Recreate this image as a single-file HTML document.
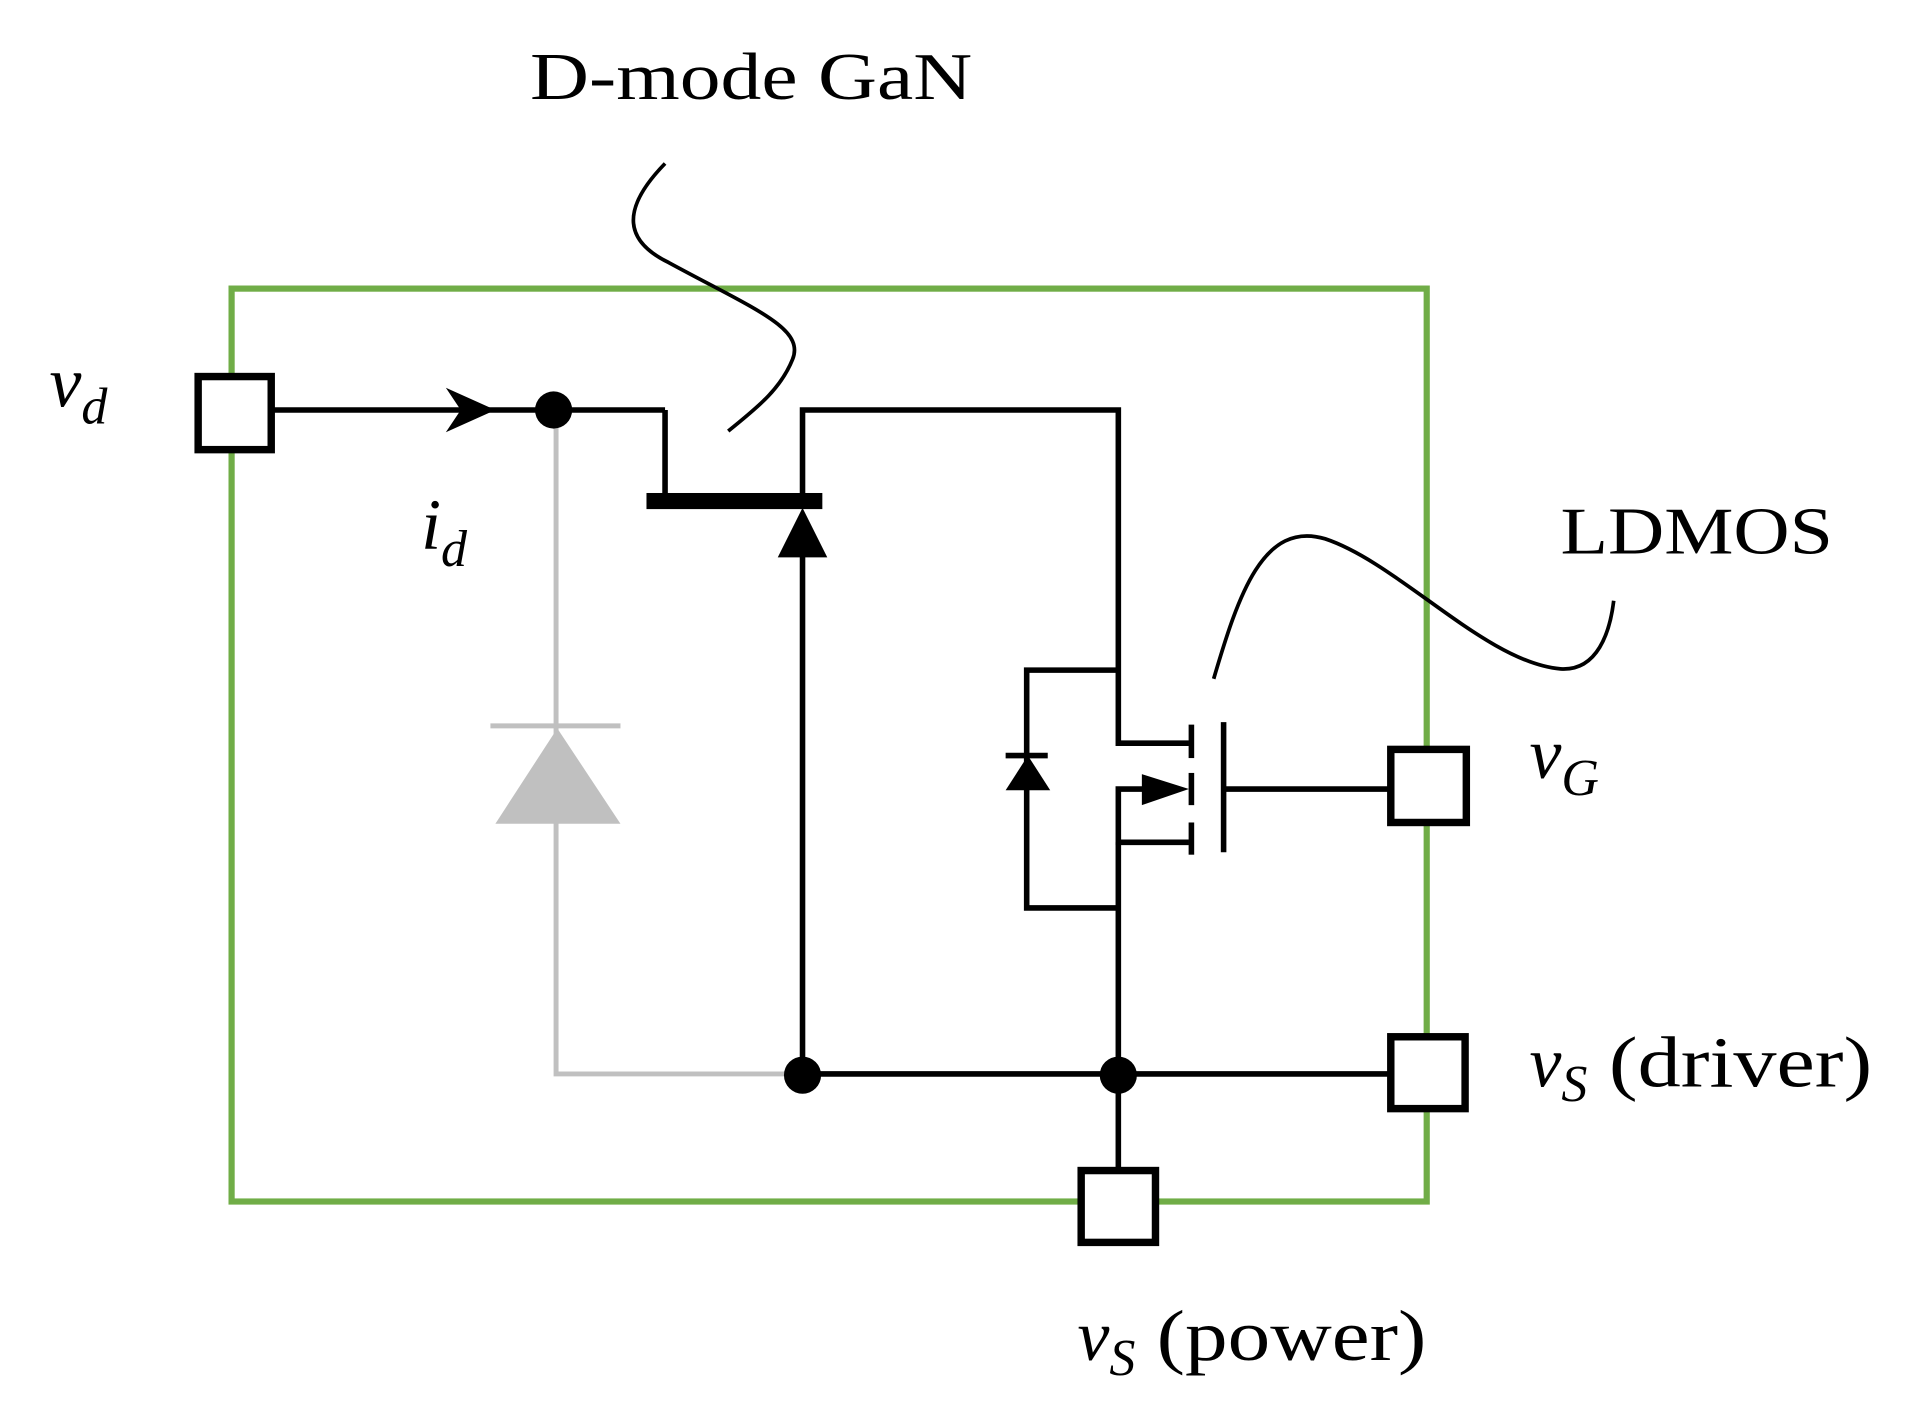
<!DOCTYPE html>
<html><head><meta charset="utf-8"><style>html,body{margin:0;padding:0;background:#fff}svg{display:block}</style></head>
<body>
<svg width="1932" height="1422" viewBox="0 0 1560 1148" preserveAspectRatio="none" xmlns="http://www.w3.org/2000/svg">
<rect x="187" y="233" width="965" height="737" fill="none" stroke="#70ad47" stroke-width="5"/>
<g stroke="#c0c0c0" stroke-width="4" fill="none">
<polyline points="449,331 449,867 648,867"/>
<line x1="396" y1="586" x2="501" y2="586"/>
</g>
<polygon points="400,665 501,665 450,588" fill="#c0c0c0"/>
<g stroke="#000" stroke-width="4.5" fill="none">
<line x1="220" y1="331" x2="537" y2="331"/>
<polyline points="537,331 537,402"/>
<polyline points="648,402 648,331 903,331 903,600 960,600"/>
<line x1="648" y1="445" x2="648" y2="867"/>
<line x1="648" y1="867" x2="1122" y2="867"/>
<line x1="903" y1="867" x2="903" y2="945"/>
<polyline points="903,541 829,541 829,733 903,733"/>
<polyline points="930,637 903,637 903,680 960,680"/>
<line x1="903" y1="680" x2="903" y2="867"/>
<line x1="962" y1="585" x2="962" y2="612"/>
<line x1="962" y1="624" x2="962" y2="650"/>
<line x1="962" y1="664" x2="962" y2="690"/>
<line x1="988" y1="583" x2="988" y2="688"/>
<line x1="988" y1="637" x2="1122" y2="637"/>
<line x1="812" y1="610" x2="846" y2="610"/>
<path d="M537,132 C500,170 505,195 540,212 C610,250 650,265 640,290 C630,315 610,330 588,348" stroke-width="3"/>
<path d="M980,548 C1000,480 1020,420 1070,435 C1130,455 1200,535 1260,540 C1290,542 1300,510 1303,485" stroke-width="3"/>
</g>
<rect x="522" y="398" width="142" height="13" fill="#000"/>
<polygon points="628,450 668,450 648,410" fill="#000"/>
<polygon points="812,638 848,638 830,610" fill="#000"/>
<polygon points="922,625 960,637 922,650" fill="#000"/>
<polygon points="360,313 400,331 360,349 372,331" fill="#000"/>
<circle cx="447" cy="331" r="15" fill="#000"/>
<circle cx="648" cy="868" r="15" fill="#000"/>
<circle cx="903" cy="868" r="15" fill="#000"/>
<g fill="#fff" stroke="#000" stroke-width="6">
<rect x="160" y="304" width="59" height="59"/>
<rect x="1123" y="605" width="61" height="59"/>
<rect x="1123" y="837" width="60" height="58"/>
<rect x="873" y="945" width="60" height="58"/>
</g>
<g font-family="Liberation Serif, serif" fill="#000">
<text x="428" y="80" font-size="54" textLength="357" lengthAdjust="spacingAndGlyphs">D-mode GaN</text>
<text x="1260" y="447" font-size="54" textLength="220" lengthAdjust="spacingAndGlyphs">LDMOS</text>
<text x="40" y="328" font-size="58" font-style="italic">v<tspan font-size="42" dy="14">d</tspan></text>
<text x="340" y="443" font-size="58" font-style="italic">i<tspan font-size="42" dy="14">d</tspan></text>
<text x="1235" y="628" font-size="58" font-style="italic">v<tspan font-size="42" dy="14">G</tspan></text>
<text x="1235" y="877" font-size="58"><tspan font-style="italic">v</tspan><tspan font-size="42" dy="12" font-style="italic">S</tspan><tspan dy="-12" textLength="230" lengthAdjust="spacingAndGlyphs"> (driver)</tspan></text>
<text x="870" y="1098" font-size="58"><tspan font-style="italic">v</tspan><tspan font-size="42" dy="12" font-style="italic">S</tspan><tspan dy="-12" textLength="235" lengthAdjust="spacingAndGlyphs"> (power)</tspan></text>
</g>
</svg>
</body></html>
